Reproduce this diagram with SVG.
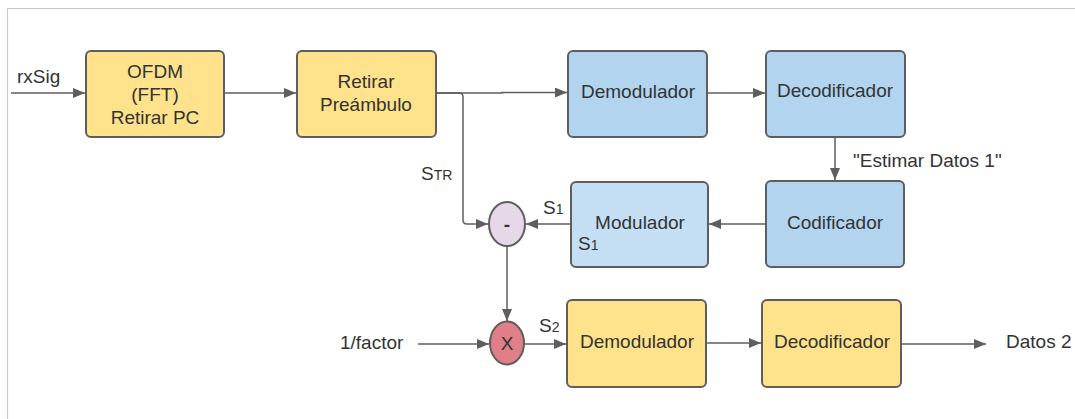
<svg xmlns="http://www.w3.org/2000/svg" width="1075" height="419" viewBox="0 0 1075 419">
  <style>
    text { font-family: "Liberation Sans", Arial, sans-serif; font-size: 19px; fill: #333333; }
    .mid { text-anchor: middle; }
    .sub { font-size: 14px; }
    .box { stroke: #5e5e5e; stroke-width: 2; }
    .yellow { fill: #ffe28c; }
    .blue { fill: #b2d4ef; }
    .lblue { fill: #c4dff3; }
    .wire { fill: none; stroke: #5e5e5e; stroke-width: 1.5; }
  </style>
  <defs>
    <marker id="arrow" viewBox="0 0 12 10" refX="12" refY="5" markerWidth="12" markerHeight="10" markerUnits="userSpaceOnUse" orient="auto">
      <path d="M0,0 L12,5 L0,10 z" fill="#5e5e5e"/>
    </marker>
  </defs>

  <rect width="1075" height="419" fill="#ffffff"/>
  <!-- frame -->
  <path d="M7.5,419 V8.5 H1075" fill="none" stroke="#c8c8c8" stroke-width="1.2"/>

  <g id="connectors">
    <path class="wire" d="M11,93 H85" marker-end="url(#arrow)"/>
    <path class="wire" d="M224,93 H296" marker-end="url(#arrow)"/>
    <path class="wire" d="M436,93 H502 V92.5 H567" marker-end="url(#arrow)"/>
    <path class="wire" d="M436,93 H459 Q463,93 463,97 V220 Q463,224 467,224 H488" marker-end="url(#arrow)"/>
    <path class="wire" d="M707,93 H765" marker-end="url(#arrow)"/>
    <path class="wire" d="M835,137 V180" marker-end="url(#arrow)"/>
    <path class="wire" d="M766,224 H709" marker-end="url(#arrow)"/>
    <path class="wire" d="M571,224 H526" marker-end="url(#arrow)"/>
    <path class="wire" d="M507,246 V321" marker-end="url(#arrow)"/>
    <path class="wire" d="M418,344 H489" marker-end="url(#arrow)"/>
    <path class="wire" d="M524,344 H566" marker-end="url(#arrow)"/>
    <path class="wire" d="M706,343 H761" marker-end="url(#arrow)"/>
    <path class="wire" d="M901,344 H986" marker-end="url(#arrow)"/>
  </g>

  <g id="label-rxsig"><text x="17" y="83">rxSig</text></g>

  <g id="ofdm">
    <rect class="box yellow" x="86" y="51" width="138" height="86" rx="5"/>
    <text class="mid" x="155" y="78">OFDM</text>
    <text class="mid" x="155" y="101">(FFT)</text>
    <text class="mid" x="155" y="124">Retirar PC</text>
  </g>

  <g id="retirar-preambulo">
    <rect class="box yellow" x="297" y="51" width="139" height="86" rx="5"/>
    <text class="mid" x="366" y="88">Retirar</text>
    <text class="mid" x="366" y="111">Preámbulo</text>
  </g>

  <g id="demodulador-1">
    <rect class="box blue" x="568" y="51" width="139" height="86" rx="5"/>
    <text class="mid" x="638" y="98">Demodulador</text>
  </g>

  <g id="decodificador-1">
    <rect class="box blue" x="766" y="51" width="139" height="86" rx="5"/>
    <text class="mid" x="835" y="97">Decodificador</text>
  </g>

  <g id="label-estimar"><text x="853" y="167">"Estimar Datos 1"</text></g>

  <g id="codificador">
    <rect class="box blue" x="766" y="181" width="138" height="86" rx="5"/>
    <text class="mid" x="835" y="229">Codificador</text>
  </g>

  <g id="modulador">
    <rect class="box lblue" x="571" y="182" width="137" height="85" rx="5"/>
    <text class="mid" x="640" y="229">Modulador</text>
    <text x="578" y="250">S<tspan class="sub">1</tspan></text>
  </g>

  <g id="label-s1"><text x="543" y="214">S<tspan class="sub">1</tspan></text></g>
  <g id="label-str"><text x="421" y="180">S<tspan class="sub">TR</tspan></text></g>

  <g id="resta">
    <ellipse class="box" cx="507" cy="224" rx="18" ry="22" fill="#e6d8e8"/>
    <text class="mid" x="507" y="231" font-weight="bold">-</text>
  </g>

  <g id="label-factor"><text x="340" y="349">1/factor</text></g>

  <g id="producto">
    <ellipse class="box" cx="507" cy="343" rx="17" ry="21.5" fill="#e07f87"/>
    <text class="mid" x="507" y="350">X</text>
  </g>

  <g id="label-s2"><text x="539" y="332">S<tspan class="sub">2</tspan></text></g>

  <g id="demodulador-2">
    <rect class="box yellow" x="567" y="300" width="139" height="87" rx="5"/>
    <text class="mid" x="637" y="348">Demodulador</text>
  </g>

  <g id="decodificador-2">
    <rect class="box yellow" x="762" y="300" width="139" height="87" rx="5"/>
    <text class="mid" x="832" y="348">Decodificador</text>
  </g>

  <g id="label-datos2"><text x="1006" y="348">Datos 2</text></g>
</svg>
